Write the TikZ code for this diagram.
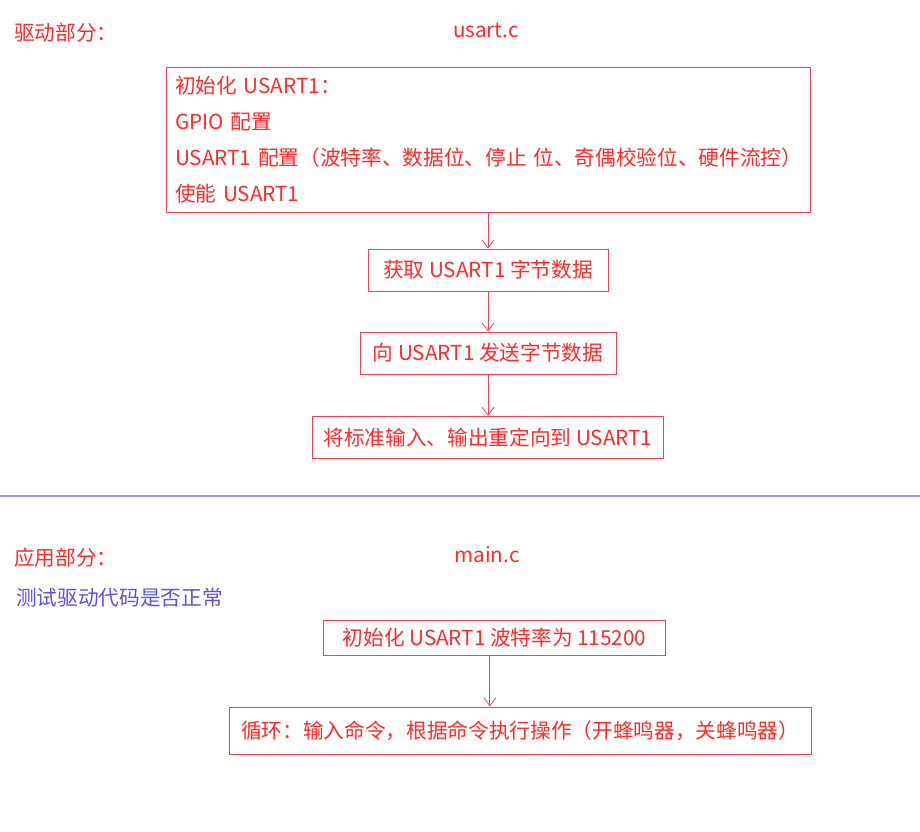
\documentclass[tikz,border=0pt]{standalone}
\usepackage{fontspec}
\newfontfamily\cjk{Noto Sans CJK SC}
\usepackage{tikz}
\usetikzlibrary{arrows.meta,positioning}
\definecolor{redtxt}{HTML}{FF2A2A}
\definecolor{redline}{HTML}{EE4455}
\definecolor{bluetxt}{HTML}{5555DD}
\definecolor{blueline}{HTML}{9A9AE8}
\tikzset{
  stepbox/.style={draw=redline,line width=0.75pt,text=redtxt,inner sep=0pt,align=center},
  flow/.style={draw=redline,line width=0.6pt,-{Straight Barb[length=6pt,width=9pt]}},
  label/.style={text=redtxt,inner sep=0pt}
}

\begin{document}
\begin{tikzpicture}[x=0.75pt,y=-0.75pt,font=\cjk\fontsize{15.5}{27}\selectfont,node distance=29pt]
\useasboundingbox (0,0) rectangle (920,831);

% driver part
\node[label,anchor=west] (drvtitle) at (14,33) {驱动部分：};
\node[label] (usartfile) at (486,30) {usart.c};

\node[stepbox,align=left,text width=469.5pt,inner xsep=6.75pt,minimum height=108pt] (init) at (488,140) {
初始化 USART1：\\
GPIO 配置\\
\mbox{USART1 配置（波特率、数据位、停止 位、奇偶校验位、硬件流控）}\\
使能 USART1};
\node[stepbox,minimum width=180pt,minimum height=31.5pt,below=27pt of init] (getbyte) {获取 USART1 字节数据};
\node[stepbox,minimum width=192pt,minimum height=31.5pt,below=30pt of getbyte] (sendbyte) {向 USART1 发送字节数据};
\node[stepbox,minimum width=263pt,minimum height=31.5pt,below=31pt of sendbyte] (redirect) {将标准输入、输出重定向到 USART1};

\draw[flow] (init) -- (getbyte);
\draw[flow] (getbyte) -- (sendbyte);
\draw[flow] (sendbyte) -- (redirect);

\draw[blueline,line width=1pt] (0,496) -- (920,496);

% application part
\node[label,anchor=west] (apptitle) at (14,558) {应用部分：};
\node[label] (mainfile) at (487,555) {main.c};
\node[label,text=bluetxt,anchor=west] (apptest) at (16,598) {测试驱动代码是否正常};

\node[stepbox,minimum width=257pt,minimum height=26.25pt] (baud) at (494.5,637.5) {初始化 USART1 波特率为 115200};
\node[stepbox,minimum width=436.5pt,minimum height=35.25pt] (loop) at (520,730.5) {循环：输入命令，根据命令执行操作（开蜂鸣器，关蜂鸣器）};

\draw[flow] ([xshift=-3.5pt]baud.south) -- ([xshift=-3.5pt]baud.south |- loop.north);
\end{tikzpicture}
\end{document}
